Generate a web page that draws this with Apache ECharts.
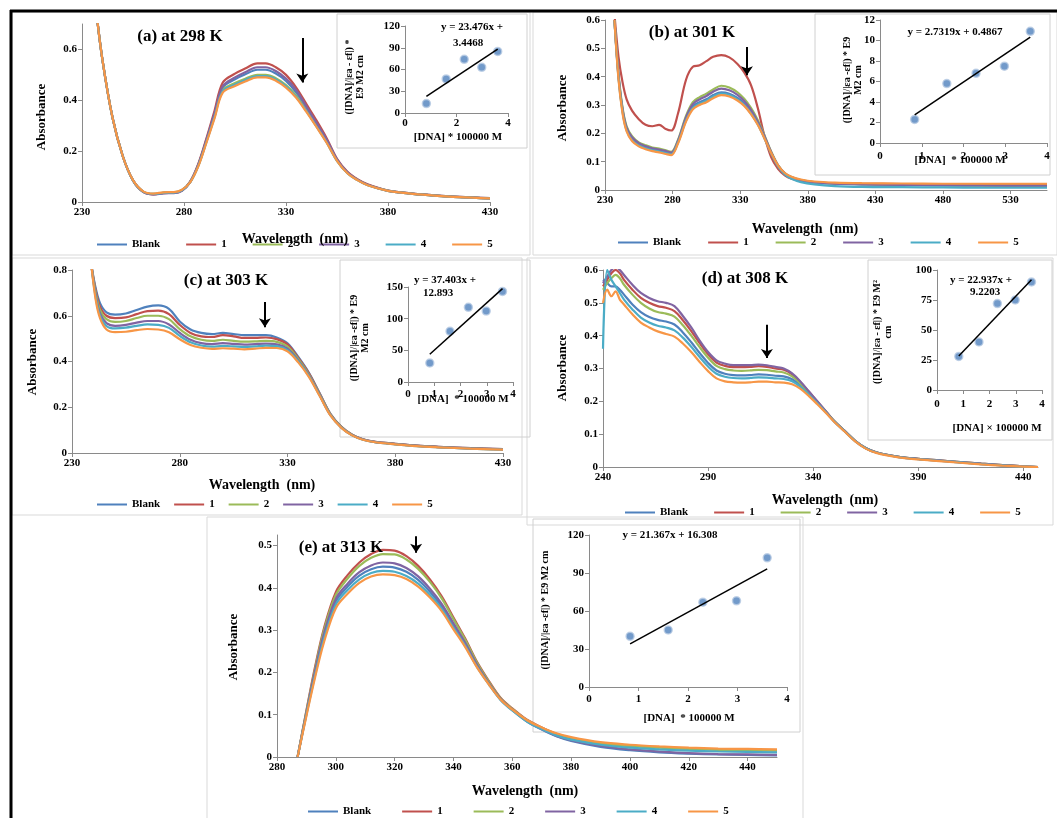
<!DOCTYPE html>
<html>
<head>
<meta charset="utf-8">
<script src="https://cdn.jsdelivr.net/npm/echarts@6/dist/echarts.min.js"></script>
<style>
html,body{margin:0;padding:0;background:#fff;}
#chart{width:1057px;height:818px;}
</style>
</head>
<body>
<div id="chart"></div>
<script>
// ---- series names / colours (Excel 2007 palette)
var seriesNames = ['Blank', '1', '2', '3', '4', '5'];
var seriesColors = ['#4F81BD', '#C0504D', '#9BBB59', '#8064A2', '#4BACC6', '#F79646'];

// ---- (a) 298 K
var lamA = [237, 240, 245, 250, 255, 260, 265, 270, 275, 279, 283, 287, 291, 295, 299, 305, 310, 316, 320, 325, 330, 335, 340, 345, 350, 355, 360, 365, 370, 380, 390, 400, 415, 430];
var a_blank = [0.75, 0.56, 0.33, 0.18, 0.085, 0.04, 0.031, 0.036, 0.037, 0.046, 0.079, 0.146, 0.243, 0.345, 0.45, 0.483, 0.502, 0.52, 0.52, 0.505, 0.476, 0.43, 0.37, 0.305, 0.24, 0.166, 0.117, 0.088, 0.068, 0.045, 0.035, 0.028, 0.02, 0.015];
var a_1 = [0.75, 0.56, 0.33, 0.18, 0.085, 0.04, 0.03, 0.035, 0.036, 0.045, 0.08, 0.15, 0.25, 0.36, 0.47, 0.505, 0.525, 0.545, 0.545, 0.53, 0.5, 0.45, 0.385, 0.32, 0.25, 0.17, 0.12, 0.09, 0.07, 0.045, 0.035, 0.028, 0.02, 0.015];
var a_2 = [0.75, 0.56, 0.33, 0.18, 0.085, 0.041, 0.032, 0.037, 0.038, 0.047, 0.078, 0.143, 0.238, 0.338, 0.44, 0.468, 0.485, 0.5, 0.5, 0.487, 0.46, 0.418, 0.36, 0.298, 0.235, 0.163, 0.115, 0.087, 0.067, 0.044, 0.034, 0.027, 0.019, 0.014];
var a_3 = [0.75, 0.56, 0.33, 0.18, 0.085, 0.04, 0.03, 0.034, 0.035, 0.044, 0.078, 0.147, 0.245, 0.35, 0.455, 0.49, 0.51, 0.53, 0.53, 0.515, 0.485, 0.44, 0.375, 0.31, 0.245, 0.168, 0.118, 0.088, 0.068, 0.044, 0.034, 0.027, 0.019, 0.014];
var a_4 = [0.75, 0.56, 0.33, 0.18, 0.085, 0.041, 0.032, 0.036, 0.037, 0.046, 0.077, 0.142, 0.236, 0.335, 0.436, 0.462, 0.48, 0.495, 0.495, 0.482, 0.455, 0.414, 0.357, 0.296, 0.233, 0.162, 0.114, 0.086, 0.066, 0.044, 0.034, 0.027, 0.019, 0.014];
var a_5 = [0.75, 0.56, 0.33, 0.18, 0.086, 0.042, 0.033, 0.038, 0.039, 0.048, 0.077, 0.14, 0.233, 0.33, 0.43, 0.456, 0.474, 0.49, 0.49, 0.477, 0.45, 0.41, 0.354, 0.294, 0.232, 0.162, 0.114, 0.086, 0.066, 0.044, 0.034, 0.027, 0.019, 0.014];
var arrowA = [338, 0.645, 0.47];

// ---- (b) 301 K
var lamB = [237, 240, 243, 246, 250, 255, 260, 265, 270, 275, 279, 284, 290, 295, 300, 305, 310, 316, 322, 328, 333, 338, 343, 348, 353, 358, 363, 368, 375, 385, 400, 420, 450, 480, 510, 557];
var b_blank = [0.6, 0.4, 0.28, 0.215, 0.18, 0.16, 0.15, 0.142, 0.138, 0.132, 0.128, 0.17, 0.25, 0.295, 0.31, 0.32, 0.335, 0.345, 0.34, 0.325, 0.305, 0.275, 0.235, 0.185, 0.13, 0.085, 0.058, 0.045, 0.034, 0.027, 0.022, 0.02, 0.018, 0.016, 0.015, 0.014];
var b_1 = [0.62, 0.47, 0.38, 0.32, 0.28, 0.25, 0.23, 0.225, 0.23, 0.215, 0.21, 0.27, 0.39, 0.435, 0.44, 0.455, 0.47, 0.476, 0.468, 0.445, 0.415, 0.37, 0.29, 0.19, 0.115, 0.075, 0.052, 0.04, 0.032, 0.027, 0.024, 0.022, 0.021, 0.02, 0.02, 0.02];
var b_2 = [0.6, 0.41, 0.29, 0.225, 0.19, 0.168, 0.158, 0.15, 0.146, 0.14, 0.135, 0.177, 0.262, 0.31, 0.328, 0.34, 0.355, 0.368, 0.362, 0.345, 0.322, 0.29, 0.247, 0.193, 0.135, 0.088, 0.06, 0.046, 0.035, 0.028, 0.023, 0.021, 0.019, 0.017, 0.016, 0.015];
var b_3 = [0.6, 0.405, 0.285, 0.22, 0.186, 0.165, 0.155, 0.147, 0.143, 0.137, 0.132, 0.174, 0.257, 0.303, 0.32, 0.332, 0.347, 0.358, 0.352, 0.336, 0.314, 0.283, 0.241, 0.19, 0.133, 0.087, 0.059, 0.045, 0.034, 0.027, 0.022, 0.02, 0.018, 0.017, 0.016, 0.015];
var b_4 = [0.6, 0.395, 0.275, 0.21, 0.176, 0.157, 0.147, 0.14, 0.136, 0.13, 0.126, 0.167, 0.246, 0.29, 0.305, 0.315, 0.33, 0.34, 0.335, 0.32, 0.3, 0.27, 0.232, 0.182, 0.128, 0.083, 0.055, 0.04, 0.028, 0.02, 0.014, 0.011, 0.01, 0.009, 0.008, 0.008];
var b_5 = [0.6, 0.39, 0.27, 0.207, 0.173, 0.154, 0.144, 0.137, 0.133, 0.127, 0.123, 0.164, 0.242, 0.285, 0.3, 0.31, 0.324, 0.335, 0.33, 0.316, 0.297, 0.268, 0.23, 0.182, 0.13, 0.087, 0.06, 0.047, 0.037, 0.03, 0.026, 0.024, 0.023, 0.022, 0.022, 0.022];
var arrowB = [335, 0.505, 0.405];

// ---- (c) 303 K
var lamC = [239, 241, 243, 246, 250, 255, 260, 265, 270, 275, 280, 285, 290, 295, 300, 305, 310, 315, 320, 325, 330, 335, 340, 345, 350, 355, 360, 365, 370, 380, 390, 400, 415, 430];
var c_blank = [0.82, 0.72, 0.655, 0.615, 0.605, 0.61, 0.625, 0.64, 0.645, 0.63, 0.575, 0.54, 0.525, 0.52, 0.525, 0.52, 0.515, 0.515, 0.515, 0.505, 0.48, 0.42, 0.35, 0.26, 0.17, 0.115, 0.08, 0.06, 0.05, 0.04, 0.032, 0.027, 0.021, 0.017];
var c_1 = [0.82, 0.71, 0.64, 0.6, 0.59, 0.593, 0.607, 0.62, 0.622, 0.607, 0.56, 0.525, 0.51, 0.507, 0.515, 0.51, 0.503, 0.503, 0.505, 0.498, 0.475, 0.416, 0.347, 0.258, 0.169, 0.114, 0.08, 0.06, 0.05, 0.04, 0.032, 0.027, 0.021, 0.017];
var c_2 = [0.82, 0.70, 0.625, 0.585, 0.573, 0.577, 0.59, 0.6, 0.6, 0.585, 0.542, 0.51, 0.495, 0.49, 0.495, 0.49, 0.487, 0.488, 0.49, 0.486, 0.465, 0.41, 0.342, 0.255, 0.167, 0.113, 0.079, 0.059, 0.049, 0.039, 0.031, 0.026, 0.02, 0.016];
var c_3 = [0.82, 0.69, 0.61, 0.568, 0.556, 0.56, 0.57, 0.577, 0.577, 0.562, 0.525, 0.495, 0.48, 0.476, 0.48, 0.477, 0.474, 0.476, 0.478, 0.475, 0.456, 0.404, 0.338, 0.252, 0.165, 0.112, 0.078, 0.059, 0.049, 0.039, 0.031, 0.026, 0.02, 0.016];
var c_4 = [0.82, 0.68, 0.6, 0.555, 0.545, 0.548, 0.556, 0.562, 0.56, 0.547, 0.512, 0.484, 0.47, 0.465, 0.468, 0.466, 0.463, 0.466, 0.469, 0.467, 0.45, 0.4, 0.335, 0.25, 0.164, 0.111, 0.077, 0.058, 0.048, 0.038, 0.03, 0.025, 0.019, 0.015];
var c_5 = [0.82, 0.67, 0.59, 0.54, 0.528, 0.53, 0.537, 0.542, 0.54, 0.528, 0.497, 0.472, 0.46, 0.455, 0.458, 0.456, 0.453, 0.456, 0.46, 0.459, 0.444, 0.396, 0.332, 0.248, 0.163, 0.11, 0.077, 0.058, 0.048, 0.038, 0.03, 0.025, 0.019, 0.015];
var arrowC = [319.5, 0.66, 0.55];

// ---- (d) 308 K
var lamD = [240, 242, 244, 246, 248, 250, 254, 258, 262, 266, 270, 274, 278, 282, 286, 290, 294, 298, 302, 306, 310, 314, 318, 322, 326, 330, 334, 338, 342, 346, 350, 355, 360, 365, 370, 380, 390, 400, 410, 420, 430, 440, 447];
var d_blank = [0.57, 0.56, 0.55, 0.55, 0.54, 0.525, 0.495, 0.472, 0.457, 0.448, 0.443, 0.434, 0.41, 0.38, 0.347, 0.317, 0.294, 0.284, 0.28, 0.279, 0.28, 0.282, 0.281, 0.278, 0.276, 0.267, 0.248, 0.223, 0.196, 0.168, 0.139, 0.109, 0.079, 0.057, 0.044, 0.031, 0.024, 0.019, 0.014, 0.009, 0.005, 0.001, 0];
var d_1 = [0.55, 0.57, 0.59, 0.6, 0.59, 0.57, 0.54, 0.515, 0.5, 0.49, 0.485, 0.475, 0.447, 0.414, 0.377, 0.343, 0.318, 0.308, 0.304, 0.304, 0.305, 0.307, 0.305, 0.3, 0.296, 0.282, 0.258, 0.229, 0.199, 0.17, 0.14, 0.11, 0.08, 0.058, 0.045, 0.032, 0.025, 0.02, 0.015, 0.01, 0.006, 0.002, 0];
var d_2 = [0.54, 0.56, 0.575, 0.585, 0.575, 0.555, 0.525, 0.5, 0.483, 0.472, 0.467, 0.458, 0.432, 0.4, 0.365, 0.333, 0.308, 0.298, 0.294, 0.293, 0.294, 0.296, 0.295, 0.291, 0.288, 0.276, 0.254, 0.227, 0.198, 0.169, 0.14, 0.11, 0.08, 0.058, 0.045, 0.032, 0.025, 0.02, 0.015, 0.01, 0.006, 0.002, 0];
var d_3 = [0.56, 0.58, 0.6, 0.61, 0.6, 0.585, 0.555, 0.53, 0.515, 0.505, 0.5, 0.49, 0.46, 0.425, 0.385, 0.35, 0.325, 0.315, 0.31, 0.31, 0.31, 0.312, 0.31, 0.305, 0.3, 0.285, 0.26, 0.23, 0.2, 0.17, 0.14, 0.11, 0.08, 0.058, 0.045, 0.032, 0.025, 0.02, 0.015, 0.01, 0.006, 0.002, 0];
var d_4 = [0.36, 0.6, 0.57, 0.55, 0.53, 0.51, 0.48, 0.455, 0.44, 0.43, 0.425, 0.416, 0.394, 0.366, 0.335, 0.306, 0.284, 0.275, 0.271, 0.27, 0.271, 0.273, 0.272, 0.27, 0.268, 0.261, 0.244, 0.22, 0.194, 0.167, 0.139, 0.109, 0.079, 0.057, 0.044, 0.031, 0.024, 0.019, 0.014, 0.009, 0.005, 0.001, 0];
var d_5 = [0.5, 0.54, 0.52, 0.535, 0.51, 0.495, 0.465, 0.44, 0.425, 0.413, 0.405, 0.397, 0.376, 0.35, 0.32, 0.292, 0.27, 0.261, 0.258, 0.257, 0.258, 0.26, 0.26, 0.258, 0.257, 0.252, 0.238, 0.216, 0.191, 0.165, 0.138, 0.108, 0.078, 0.056, 0.043, 0.03, 0.023, 0.018, 0.013, 0.008, 0.004, 0.001, 0];
var arrowD = [318, 0.433, 0.332];

// ---- (e) 313 K
var lamE = [287, 290, 293, 296, 300, 304, 308, 312, 316, 320, 324, 328, 332, 336, 340, 344, 348, 352, 356, 360, 365, 370, 375, 380, 390, 400, 410, 420, 430, 440, 450];
var e_blank = [0, 0.103, 0.2, 0.287, 0.368, 0.403, 0.429, 0.444, 0.45, 0.448, 0.438, 0.419, 0.391, 0.356, 0.312, 0.267, 0.216, 0.174, 0.136, 0.111, 0.084, 0.065, 0.049, 0.038, 0.024, 0.016, 0.011, 0.008, 0.006, 0.005, 0.004];
var e_1 = [0, 0.11, 0.215, 0.305, 0.39, 0.43, 0.46, 0.48, 0.49, 0.488, 0.475, 0.452, 0.42, 0.38, 0.33, 0.28, 0.225, 0.18, 0.14, 0.115, 0.088, 0.07, 0.055, 0.045, 0.033, 0.027, 0.023, 0.02, 0.018, 0.017, 0.016];
var e_2 = [0, 0.108, 0.21, 0.3, 0.383, 0.422, 0.452, 0.471, 0.48, 0.479, 0.467, 0.445, 0.414, 0.375, 0.326, 0.277, 0.223, 0.178, 0.139, 0.114, 0.087, 0.069, 0.054, 0.044, 0.032, 0.026, 0.022, 0.019, 0.017, 0.016, 0.015];
var e_3 = [0, 0.105, 0.205, 0.292, 0.374, 0.41, 0.437, 0.453, 0.46, 0.458, 0.447, 0.427, 0.398, 0.362, 0.316, 0.27, 0.218, 0.175, 0.137, 0.112, 0.085, 0.066, 0.05, 0.04, 0.026, 0.018, 0.013, 0.009, 0.007, 0.006, 0.005];
var e_4 = [0, 0.1, 0.195, 0.28, 0.36, 0.395, 0.42, 0.435, 0.44, 0.438, 0.428, 0.41, 0.383, 0.35, 0.306, 0.263, 0.213, 0.172, 0.135, 0.11, 0.084, 0.066, 0.051, 0.041, 0.029, 0.022, 0.018, 0.015, 0.013, 0.012, 0.011];
var e_5 = [0, 0.097, 0.19, 0.272, 0.352, 0.386, 0.412, 0.427, 0.432, 0.43, 0.421, 0.403, 0.377, 0.345, 0.302, 0.26, 0.212, 0.172, 0.136, 0.112, 0.087, 0.07, 0.056, 0.047, 0.035, 0.029, 0.025, 0.022, 0.02, 0.019, 0.018];
var arrowE = [327.3, 0.522, 0.483];

// ---- insets: [DNA]*1e5 vs [DNA]/|ea-ef| *1e9
var concX = [0.83, 1.6, 2.3, 2.98, 3.6];
var insetA = [13, 47, 74, 63, 85];
var insetB = [2.3, 5.8, 6.8, 7.5, 10.9];
var insetC = [30, 80, 118, 112, 143];
var insetD = [28, 40, 72, 75, 90];
var insetE = [40, 45, 67, 68, 102];
var trendA = [[0.83, 22.9], [3.6, 88.0]];
var trendB = [[0.83, 2.75], [3.6, 10.32]];
var trendC = [[0.83, 43.9], [3.6, 147.5]];
var trendD = [[0.83, 28.3], [3.6, 91.8]];
var trendE = [[0.83, 34.0], [3.6, 93.2]];

var FONT = '"Liberation Serif", "DejaVu Serif", serif';
var AXIS_GRAY = '#8a8a8a';

var grids = [], xAxes = [], yAxes = [], series = [], legends = [], graphics = [];

function pairs(xs, ys) {
	return xs.map(function (x, i) { return [x, ys[i]]; });
}

function axis(gi, r, fs, margin) {
	return {
		gridIndex: gi, type: 'value', min: r[0], max: r[1], interval: r[2],
		axisLine: { show: true, onZero: false, lineStyle: { color: AXIS_GRAY, width: 1 } },
		axisTick: { show: true, length: 4, lineStyle: { color: AXIS_GRAY } },
		axisLabel: { color: '#000', fontFamily: FONT, fontWeight: 'bold', fontSize: fs, margin: margin || 5, showMaxLabel: r[3], hideOverlap: false },
		splitLine: { show: false }
	};
}

function txt(x, y, s, size, rot) {
	return {
		type: 'text', x: x, y: y, rotation: rot || 0, z: 100, silent: true,
		style: { text: s, fill: '#000', font: 'bold ' + size + 'px ' + FONT, align: 'center', verticalAlign: 'middle', lineHeight: size + 1 }
	};
}

function box(x, y, w, h, color, lw) {
	return { type: 'rect', silent: true, z: -5, shape: { x: x, y: y, width: w, height: h }, style: { fill: 'none', stroke: color, lineWidth: lw } };
}

function mainPanel(p) {
	var gi = grids.length;
	grids.push({ left: p.grid[0], top: p.grid[1], width: p.grid[2], height: p.grid[3] });
	xAxes.push(axis(gi, p.xr, 11));
	yAxes.push(axis(gi, p.yr, 11));
	p.curves.forEach(function (c, k) {
		var s = {
			type: 'line', name: seriesNames[k], xAxisIndex: gi, yAxisIndex: gi,
			data: pairs(p.lam, c), symbol: 'none', showSymbol: false, smooth: 0.35, clip: true,
			lineStyle: { width: 2.2, color: seriesColors[k] }, itemStyle: { color: seriesColors[k] }, z: 2 + k
		};
		if (k === 0) {
			s.markLine = {
				silent: true, symbol: ['none', 'arrow'], symbolSize: 9, animation: false,
				label: { show: false },
				lineStyle: { color: '#000', width: 2, type: 'solid' },
				data: [[{ coord: [p.arrow[0], p.arrow[1]] }, { coord: [p.arrow[0], p.arrow[2]] }]]
			};
		}
		series.push(s);
	});
	legends.push({
		left: p.legend[0], top: p.legend[1], orient: 'horizontal', padding: 0,
		icon: 'rect', itemWidth: 30, itemHeight: 2, itemGap: p.legend[2], selectedMode: false,
		textStyle: { fontFamily: FONT, fontWeight: 'bold', fontSize: 11, color: '#000' },
		data: seriesNames.slice()
	});
}

function insetPanel(p) {
	var gi = grids.length;
	grids.push({ left: p.grid[0], top: p.grid[1], width: p.grid[2], height: p.grid[3] });
	xAxes.push(axis(gi, p.xr, 11, p.xm));
	yAxes.push(axis(gi, p.yr, 11));
	series.push({
		type: 'scatter', name: 'pts' + gi, xAxisIndex: gi, yAxisIndex: gi, data: pairs(concX, p.ys),
		symbolSize: 8, z: 5, itemStyle: { color: '#4F81BD', borderColor: '#b9cce4', borderWidth: 1.5 }
	});
	series.push({
		type: 'line', name: 'trend' + gi, xAxisIndex: gi, yAxisIndex: gi, data: p.trend,
		symbol: 'none', z: 6, lineStyle: { color: '#000', width: 1.5 }
	});
}

// panel frames
graphics.push({ type: 'line', silent: true, z: 50, shape: { x1: 10, y1: 11, x2: 1057, y2: 11 }, style: { stroke: '#000', lineWidth: 3 } });
graphics.push({ type: 'line', silent: true, z: 50, shape: { x1: 11, y1: 10, x2: 11, y2: 818 }, style: { stroke: '#000', lineWidth: 3 } });
graphics.push(box(12, 12, 518, 243, '#d9d9d9', 1));
graphics.push(box(533, 12, 524, 243, '#d9d9d9', 1));
graphics.push(box(12, 258, 510, 257, '#d9d9d9', 1));
graphics.push(box(527, 258, 526, 267, '#d9d9d9', 1));
graphics.push(box(207, 517, 596, 310, '#d9d9d9', 1));
// inset frames
graphics.push(box(337, 14, 190, 134, '#d0d0d0', 1));
graphics.push(box(815, 14, 235, 161, '#d0d0d0', 1));
graphics.push(box(340, 260, 190, 177, '#d0d0d0', 1));
graphics.push(box(868, 260, 184, 180, '#d0d0d0', 1));
graphics.push(box(533, 519, 267, 213, '#d0d0d0', 1));

mainPanel({ grid: [82, 24, 408, 178], xr: [230, 430, 50, true], yr: [0, 0.7, 0.2, false], lam: lamA,
	curves: [a_blank, a_1, a_2, a_3, a_4, a_5], arrow: arrowA, legend: [97, 239, 26] });
mainPanel({ grid: [605, 20, 442, 170], xr: [230, 557, 50, false], yr: [0, 0.6, 0.1, true], lam: lamB,
	curves: [b_blank, b_1, b_2, b_3, b_4, b_5], arrow: arrowB, legend: [618, 237, 27] });
mainPanel({ grid: [72, 270, 431, 183], xr: [230, 430, 50, true], yr: [0, 0.8, 0.2, true], lam: lamC,
	curves: [c_blank, c_1, c_2, c_3, c_4, c_5], arrow: arrowC, legend: [97, 499, 14] });
mainPanel({ grid: [603, 270, 435, 197], xr: [240, 447, 50, false], yr: [0, 0.6, 0.1, true], lam: lamD,
	curves: [d_blank, d_1, d_2, d_3, d_4, d_5], arrow: arrowD, legend: [625, 507, 26] });
mainPanel({ grid: [277, 535, 500, 222], xr: [280, 450, 20, false], yr: [0, 0.525, 0.1, false], lam: lamE,
	curves: [e_blank, e_1, e_2, e_3, e_4, e_5], arrow: arrowE, legend: [308, 806, 31] });

insetPanel({ grid: [405, 26, 103, 87], xr: [0, 4, 2, true], yr: [0, 120, 30, true], ys: insetA, trend: trendA });
insetPanel({ grid: [880, 20, 167, 123], xr: [0, 4, 1, true], yr: [0, 12, 2, true], ys: insetB, trend: trendB, xm: 8 });
insetPanel({ grid: [408, 287, 105, 95], xr: [0, 4, 1, true], yr: [0, 150, 50, true], ys: insetC, trend: trendC, xm: 7 });
insetPanel({ grid: [937, 270, 105, 120], xr: [0, 4, 1, true], yr: [0, 100, 25, true], ys: insetD, trend: trendD, xm: 9 });
insetPanel({ grid: [589, 535, 198, 152], xr: [0, 4, 1, true], yr: [0, 120, 30, true], ys: insetE, trend: trendE, xm: 7 });

// titles
graphics.push(txt(180, 37, '(a) at 298 K', 17));
graphics.push(txt(692, 33, '(b) at 301 K', 17));
graphics.push(txt(226, 281, '(c) at 303 K', 17));
graphics.push(txt(745, 279, '(d) at 308 K', 17));
graphics.push(txt(341, 548, '(e) at 313 K', 17));
// main axis names
var R = Math.PI / 2;
graphics.push(txt(42, 117, 'Absorbance', 13, R));
graphics.push(txt(563, 108, 'Absorbance', 13, R));
graphics.push(txt(33, 362, 'Absorbance', 13, R));
graphics.push(txt(563, 368, 'Absorbance', 13, R));
graphics.push(txt(234, 647, 'Absorbance', 13, R));
graphics.push(txt(295, 239, 'Wavelength  (nm)', 14));
graphics.push(txt(805, 229, 'Wavelength  (nm)', 14));
graphics.push(txt(262, 485, 'Wavelength  (nm)', 14));
graphics.push(txt(825, 500, 'Wavelength  (nm)', 14));
graphics.push(txt(525, 791, 'Wavelength  (nm)', 14));
// inset equations and axis names
graphics.push(txt(472, 27, 'y = 23.476x +', 11));
graphics.push(txt(468, 43, '3.4468', 11));
graphics.push(txt(955, 32, 'y = 2.7319x + 0.4867', 11));
graphics.push(txt(445, 280, 'y = 37.403x +', 11));
graphics.push(txt(438, 293, '12.893', 11));
graphics.push(txt(981, 280, 'y = 22.937x +', 11));
graphics.push(txt(985, 292, '9.2203', 11));
graphics.push(txt(670, 535, 'y = 21.367x + 16.308', 11));
graphics.push(txt(458, 137, '[DNA] * 100000 M', 11));
graphics.push(txt(960, 160, '[DNA]  * 100000 M', 11));
graphics.push(txt(463, 399, '[DNA]  * 100000 M', 11));
graphics.push(txt(997, 428, '[DNA] × 100000 M', 11));
graphics.push(txt(689, 718, '[DNA]  * 100000 M', 11));
graphics.push(txt(355, 77, '([DNA]/|εa - εf|) *\nE9 M2 cm', 10, R));
graphics.push(txt(853, 80, '([DNA]/|εa -εf|) * E9\nM2 cm', 10, R));
graphics.push(txt(360, 338, '([DNA]/|εa -εf|) * E9\nM2 cm', 10, R));
graphics.push(txt(883, 332, '([DNA]/|εa - εf|) * E9 M²\ncm', 10, R));
graphics.push(txt(545, 610, '([DNA]/|εa -εf|) * E9 M2 cm', 10, R));

var myChart = echarts.init(document.getElementById('chart'));
myChart.setOption({
	animation: false,
	backgroundColor: '#fff',
	grid: grids,
	xAxis: xAxes,
	yAxis: yAxes,
	legend: legends,
	series: series,
	graphic: { elements: graphics }
});
window.onresize = myChart.resize;
</script>
</body>
</html>
